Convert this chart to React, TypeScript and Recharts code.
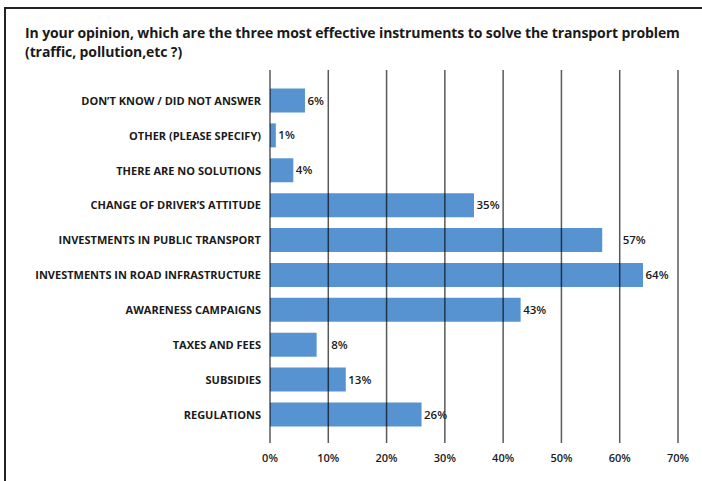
import React from 'react';
import { BarChart, Bar, XAxis, YAxis, ReferenceLine, LabelList } from 'recharts';

const categories = [
  'DON\u2019T KNOW / DID NOT ANSWER',
  'OTHER (PLEASE SPECIFY)',
  'THERE ARE NO SOLUTIONS',
  'CHANGE OF DRIVER\u2019S ATTITUDE',
  'INVESTMENTS IN PUBLIC TRANSPORT',
  'INVESTMENTS IN ROAD INFRASTRUCTURE',
  'AWARENESS CAMPAIGNS',
  'TAXES AND FEES',
  'SUBSIDIES',
  'REGULATIONS',
];
const values = [6, 1, 4, 35, 57, 64, 43, 8, 13, 26];
const xTicks = [0, 10, 20, 30, 40, 50, 60, 70];

const data = categories.map((name, i) => ({ name, value: values[i] }));

const FONT = '"Open Sans", "DejaVu Sans", sans-serif';
const TEXT = '#1a1a1a';

const CategoryTick = (props: any) => {
  const { x, y, payload } = props;
  return (
    <text x={x} y={y} dy="0.35em" textAnchor="end" fontSize={11} fontWeight={700} fill={TEXT} fontFamily={FONT}>
      {payload.value}
    </text>
  );
};

const ValueLabel = (props: any) => {
  const { x, y, width, height, value } = props;
  const v = Number(value);
  const text = `${v}%`;
  const pxPerUnit = v > 0 ? width / v : 0;
  const textW = text.length * 7.4;
  let start = x + width + 2.5;
  // nudge label past a gridline it would collide with
  for (const t of xTicks) {
    const gx = x + t * pxPerUnit;
    if (gx > start + 4 && gx < start + textW - 4) {
      start = gx + 3;
    }
  }
  return (
    <text x={start} y={y + height / 2} dy="0.35em" textAnchor="start" fontSize={11.5} fontWeight={600} fill={TEXT} fontFamily={FONT}>
      {text}
    </text>
  );
};

export default function App() {
  return (
    <div style={{ position: 'absolute', left: 0, top: 0, width: 702, height: 481, background: '#fff', fontFamily: FONT }}>
      <div style={{ position: 'absolute', left: 4, top: 7, width: 698, height: 474, borderTop: '2px solid #222', borderLeft: '2px solid #222' }} />
      <div style={{ position: 'absolute', left: 25, top: 23, width: 675, fontSize: 14, fontWeight: 700, color: TEXT, lineHeight: '19px', letterSpacing: -0.1, whiteSpace: 'nowrap' }}>
        In your opinion, which are the three most effective instruments to solve the transport problem<br />(traffic, pollution,etc ?)
      </div>
      <div style={{ position: 'absolute', left: 0, top: 0 }}>
        <BarChart
          width={702}
          height={481}
          data={data}
          layout="vertical"
          margin={{ top: 70, right: 24, bottom: 8, left: 10 }}
        >
          <XAxis
            type="number"
            domain={[0, 70]}
            ticks={xTicks}
            tickFormatter={(v: number) => `${v}%`}
            axisLine={false}
            tickLine={false}
            tickSize={0}
            tickMargin={11}
            height={30}
            tick={{ fontSize: 11, fontWeight: 600, fill: TEXT, fontFamily: FONT }}
            interval={0}
          />
          <YAxis
            type="category"
            dataKey="name"
            width={260}
            axisLine={false}
            tickLine={false}
            tickSize={0}
            tickMargin={9}
            padding={{ top: 13.5, bottom: 10.6 }}
            tick={<CategoryTick />}
            interval={0}
          />
          <Bar dataKey="value" fill="#5793d0" barSize={24} isAnimationActive={false}>
            <LabelList dataKey="value" content={<ValueLabel />} />
          </Bar>
          {xTicks.map((t) => (
            <ReferenceLine key={t} x={t} stroke="rgba(0,0,0,0.65)" strokeWidth={1.5} />
          ))}
        </BarChart>
      </div>
    </div>
  );
}
